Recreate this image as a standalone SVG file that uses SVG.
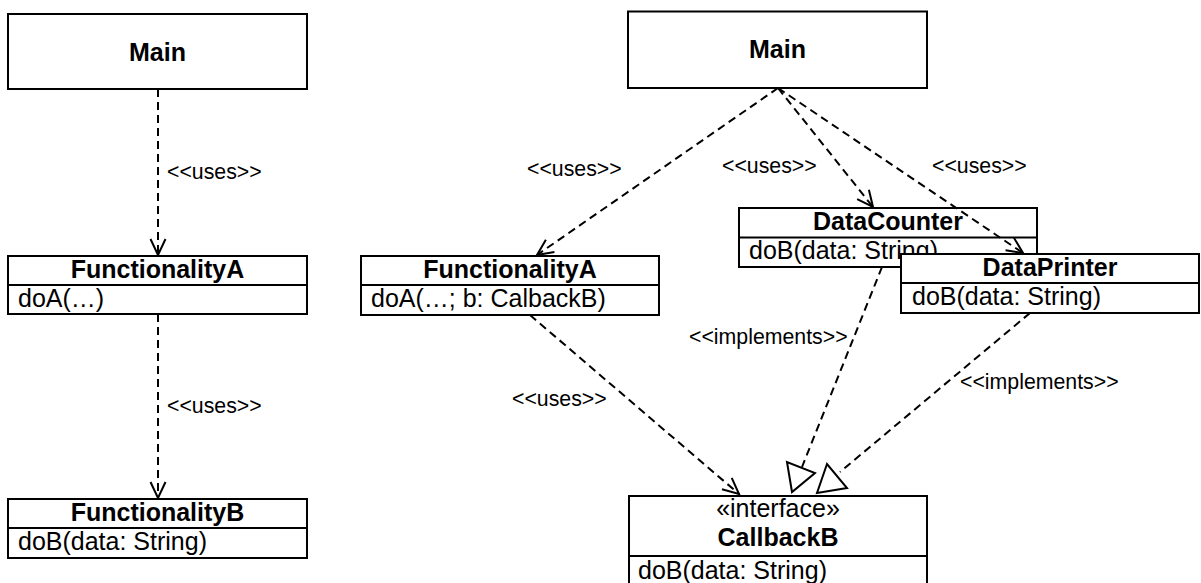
<svg xmlns="http://www.w3.org/2000/svg" width="1201" height="583" viewBox="0 0 1201 583">
<style>
.box{fill:#fff;stroke:#000;stroke-width:2}
.div{stroke:#000;stroke-width:2}
.t{font-family:"Liberation Sans",Arial,sans-serif;font-size:25px;fill:#000}
.b{font-weight:bold;text-anchor:middle}
.lbl{font-family:"Liberation Sans",Arial,sans-serif;font-size:21.3px;fill:#000}
.dash{fill:none;stroke:#000;stroke-width:2;stroke-dasharray:8 5}
.head{fill:none;stroke:#000;stroke-width:2}
.tri{fill:#fff;stroke:#000;stroke-width:2;stroke-linejoin:miter}
</style>
<defs>
<marker id="open" viewBox="-18 -9 20 18" refX="0" refY="0" markerWidth="20" markerHeight="18" markerUnits="userSpaceOnUse" orient="auto">
<path d="M -16 -7.5 L 0 0 L -16 7.5" class="head"/>
</marker>
</defs>
<rect width="1201" height="583" fill="#fff"/>
<g id="mainL">
<rect class="box" x="8" y="14" width="299" height="75"/>
<text class="t b" x="157.5" y="61">Main</text>
</g>
<g id="funcAL">
<rect class="box" x="8" y="256" width="299" height="58"/>
<line class="div" x1="8" y1="285" x2="307" y2="285"/>
<text class="t b" x="157.5" y="278">FunctionalityA</text>
<text class="t" x="18" y="307">doA(…)</text>
</g>
<g id="funcBL">
<rect class="box" x="8" y="499" width="299" height="59"/>
<line class="div" x1="8" y1="528" x2="307" y2="528"/>
<text class="t b" x="157.5" y="521">FunctionalityB</text>
<text class="t" x="18" y="550">doB(data: String)</text>
</g>
<g id="mainR">
<rect class="box" x="628" y="11.5" width="299" height="76.5"/>
<text class="t b" x="777.5" y="58">Main</text>
</g>
<g id="funcAR">
<rect class="box" x="361" y="256" width="298" height="59"/>
<line class="div" x1="361" y1="285" x2="659" y2="285"/>
<text class="t b" x="510" y="278">FunctionalityA</text>
<text class="t" x="371" y="307">doA(…; b: CalbackB)</text>
</g>
<g id="dataCounter">
<rect class="box" x="739" y="208" width="298" height="59"/>
<line class="div" x1="739" y1="237.5" x2="1037" y2="237.5"/>
<text class="t b" x="888" y="230">DataCounter</text>
<text class="t" x="749" y="259">doB(data: String)</text>
</g>
<g id="dataPrinter">
<rect class="box" x="901" y="254" width="298" height="59"/>
<line class="div" x1="901" y1="283" x2="1199" y2="283"/>
<text class="t b" x="1050" y="276">DataPrinter</text>
<text class="t" x="912" y="305">doB(data: String)</text>
</g>
<g id="callbackB">
<rect class="box" x="629" y="496" width="298" height="100"/>
<line class="div" x1="629" y1="556" x2="927" y2="556"/>
<text class="t" x="778" y="517" text-anchor="middle">«interface»</text>
<text class="t b" x="778" y="546">CallbackB</text>
<text class="t" x="638" y="579">doB(data: String)</text>
</g>
<g id="connectors">
<line class="dash" x1="158" y1="89" x2="158" y2="255" marker-end="url(#open)"/>
<line class="dash" x1="158" y1="314" x2="158" y2="498" marker-end="url(#open)"/>
<line class="dash" x1="778" y1="88" x2="537" y2="255" marker-end="url(#open)"/>
<line class="dash" x1="778" y1="88" x2="873" y2="207" marker-end="url(#open)"/>
<line class="dash" x1="778" y1="88" x2="1023" y2="253" marker-end="url(#open)"/>
<line class="dash" x1="530" y1="315" x2="739" y2="494" marker-end="url(#open)"/>
<line class="dash" x1="882" y1="267" x2="802" y2="467"/>
<line class="dash" x1="1030" y1="313" x2="840" y2="472"/>
<polygon class="tri" points="787,462 792,492 815,473"/>
<polygon class="tri" points="827,464 817,493 847,488"/>
<text class="lbl" x="167" y="179">&lt;&lt;uses&gt;&gt;</text>
<text class="lbl" x="167" y="413">&lt;&lt;uses&gt;&gt;</text>
<text class="lbl" x="527" y="176">&lt;&lt;uses&gt;&gt;</text>
<text class="lbl" x="722" y="173">&lt;&lt;uses&gt;&gt;</text>
<text class="lbl" x="932" y="173">&lt;&lt;uses&gt;&gt;</text>
<text class="lbl" x="512" y="406">&lt;&lt;uses&gt;&gt;</text>
<text class="lbl" x="689" y="344">&lt;&lt;implements&gt;&gt;</text>
<text class="lbl" x="960" y="389">&lt;&lt;implements&gt;&gt;</text>
</g>
</svg>
